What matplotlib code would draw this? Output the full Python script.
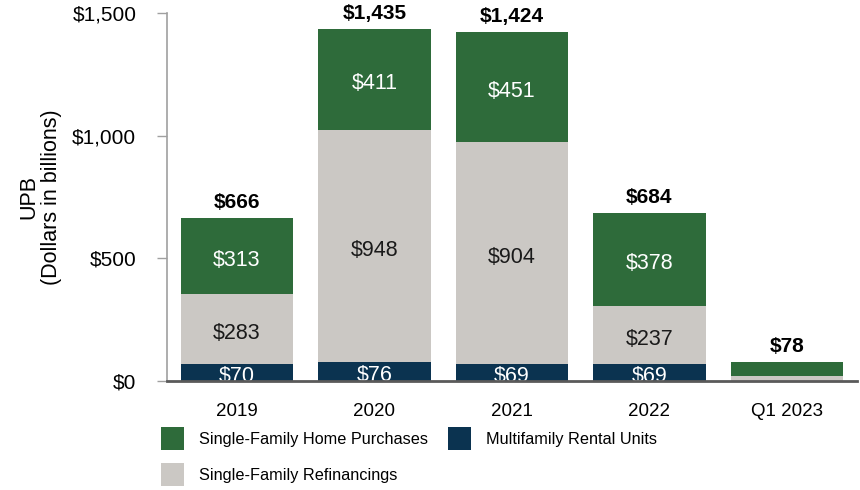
#!/usr/bin/env python3
"""Stacked bars of acquisition UPB by year."""

import matplotlib

matplotlib.use("Agg")
import matplotlib.pyplot as plt
import numpy as np

plt.rcParams["font.family"] = ["Liberation Sans", "DejaVu Sans"]

YEARS = ["2019", "2020", "2021", "2022", "Q1 2023"]
MULTIFAMILY = [70, 76, 69, 69, 0]
REFINANCINGS = [283, 948, 904, 237, 22]
PURCHASES = [313, 411, 451, 378, 56]
TOTALS = [666, 1435, 1424, 684, 78]
LABELLED = [True, True, True, True, False]

GREEN = "#2e6b3a"
GREY = "#cbc8c4"
NAVY = "#0b3350"


def label_segments(ax, xs, bottoms, values, color):
  for x, b, v, show in zip(xs, bottoms, values, LABELLED):
    if not show:
      continue
    ax.annotate(f"${v:,}", (x, b + v / 2.0), xytext=(0, -3),
                textcoords="offset points", ha="center", va="center",
                fontsize=15.5, color=color, zorder=4)


def main():
  fig = plt.figure(figsize=(8.6, 4.9), dpi=100)
  ax = fig.add_axes([0.194, 0.2224, 0.8025, 0.7511])

  xs = np.arange(len(YEARS))
  width = 0.82
  multi = np.array(MULTIFAMILY)
  refi = np.array(REFINANCINGS)
  purch = np.array(PURCHASES)

  ax.bar(xs, multi, width=width, color=NAVY, label="Multifamily Rental Units")
  ax.bar(xs, refi, width=width, bottom=multi, color=GREY,
         label="Single-Family Refinancings")
  ax.bar(xs, purch, width=width, bottom=multi + refi, color=GREEN,
         label="Single-Family Home Purchases")

  label_segments(ax, xs, np.zeros(len(xs)), MULTIFAMILY, "white")
  label_segments(ax, xs, multi, REFINANCINGS, "#1a1a1a")
  label_segments(ax, xs, multi + refi, PURCHASES, "white")

  for x, top, total in zip(xs, multi + refi + purch, TOTALS):
    ax.annotate(f"${total:,}", (x, top), xytext=(0, 11),
                textcoords="offset points", ha="center", va="center",
                fontsize=15, fontweight="bold", color="black")

  ax.set_xlim(-0.51, 4.51)
  ax.set_ylim(0, 1500)
  ax.set_yticks([0, 500, 1000, 1500])
  ax.set_yticklabels(["$0", "$500", "$1,000", "$1,500"])
  ax.set_xticks(xs)
  ax.set_xticklabels(YEARS)
  ax.tick_params(axis="y", direction="out", length=7, width=1,
                 color="#a0a0a0", pad=15, labelsize=15)
  ax.tick_params(axis="x", length=0, pad=16, labelsize=13.5)
  ax.set_ylabel("UPB\n(Dollars in billions)", fontsize=15.5, labelpad=7,
                linespacing=1.15)

  for side in ("top", "right"):
    ax.spines[side].set_visible(False)
  ax.spines["left"].set_color("#a0a0a0")
  ax.spines["left"].set_linewidth(1.2)
  ax.spines["bottom"].set_color("#5a5a5a")
  ax.spines["bottom"].set_linewidth(2)
  ax.spines["bottom"].set_zorder(5)

  handles, labels = ax.get_legend_handles_labels()
  order = [2, 1, 0]
  fig.legend([handles[i] for i in order], [labels[i] for i in order],
             loc="upper left", bbox_to_anchor=(0.187, 0.128), ncol=2,
             frameon=False, fontsize=11.7, handlelength=1.45, handleheight=1.8,
             handletextpad=0.9, columnspacing=1.2, labelspacing=0.8,
             borderaxespad=0, borderpad=0)

  fig.savefig("out.png", dpi=100)
  plt.close(fig)


if __name__ == "__main__":
  main()
